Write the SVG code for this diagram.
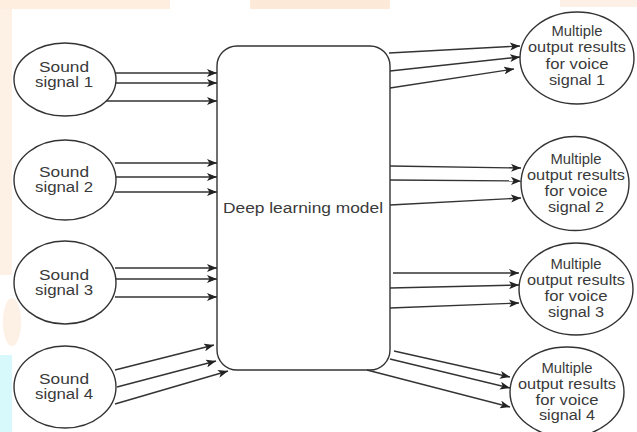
<svg xmlns="http://www.w3.org/2000/svg" width="637" height="432" viewBox="0 0 637 432">
<defs>
<marker id="ah" viewBox="0 0 10 8" refX="10" refY="4" markerWidth="10" markerHeight="8" markerUnits="userSpaceOnUse" orient="auto">
<path d="M0,0 L10,4 L0,8 L2.5,4 Z" fill="#222"/>
</marker>
<style>
.n{fill:#fff;stroke:#333;stroke-width:1.4}
.t{font-family:"Liberation Sans",Arial,sans-serif;font-size:14px;fill:#3a3a3a;text-anchor:middle}
.c{stroke:#333;stroke-width:1.4;fill:none;marker-end:url(#ah)}
</style>
</defs>
<g id="background">
<rect x="0" y="0" width="637" height="432" fill="#fff"/>
<rect x="0" y="0" width="12" height="275" fill="#fdf0e4"/>
<rect x="0" y="0" width="170" height="9" fill="#fdeee0"/>
<rect x="250" y="0" width="140" height="9" fill="#fde9d8"/>
<rect x="560" y="0" width="77" height="7" fill="#fdf0e6"/>
<ellipse cx="12" cy="322" rx="9" ry="24" fill="#fdf0e4"/>
<rect x="0" y="355" width="12" height="77" fill="#d8f9fc"/>
</g>
<g id="model">
<rect class="n" x="217" y="46" width="173" height="324" rx="20"/>
<text class="t" x="303" y="213" textLength="160" lengthAdjust="spacingAndGlyphs">Deep learning model</text>
</g>
<g id="sound1">
<ellipse class="n" cx="65" cy="79.5" rx="51" ry="36.5"/>
<text class="t" x="64" y="72" textLength="50" lengthAdjust="spacingAndGlyphs">Sound</text>
<text class="t" x="64" y="87" textLength="58" lengthAdjust="spacingAndGlyphs">signal 1</text>
</g>
<g id="sound2">
<ellipse class="n" cx="65" cy="180" rx="51" ry="40"/>
<text class="t" x="64" y="177" textLength="50" lengthAdjust="spacingAndGlyphs">Sound</text>
<text class="t" x="64" y="192" textLength="58" lengthAdjust="spacingAndGlyphs">signal 2</text>
</g>
<g id="sound3">
<ellipse class="n" cx="65" cy="282.5" rx="51" ry="41.5"/>
<text class="t" x="64" y="280" textLength="50" lengthAdjust="spacingAndGlyphs">Sound</text>
<text class="t" x="64" y="295" textLength="58" lengthAdjust="spacingAndGlyphs">signal 3</text>
</g>
<g id="sound4">
<ellipse class="n" cx="65" cy="387" rx="51" ry="41"/>
<text class="t" x="64" y="384" textLength="50" lengthAdjust="spacingAndGlyphs">Sound</text>
<text class="t" x="64" y="399" textLength="58" lengthAdjust="spacingAndGlyphs">signal 4</text>
</g>
<g id="out1">
<ellipse class="n" cx="577" cy="58" rx="57" ry="46"/>
<text class="t" x="577" y="36" textLength="51" lengthAdjust="spacingAndGlyphs">Multiple</text>
<text class="t" x="577" y="52" textLength="98" lengthAdjust="spacingAndGlyphs">output results</text>
<text class="t" x="577" y="69" textLength="63" lengthAdjust="spacingAndGlyphs">for voice</text>
<text class="t" x="577" y="85" textLength="56" lengthAdjust="spacingAndGlyphs">signal 1</text>
</g>
<g id="out2">
<ellipse class="n" cx="575" cy="183.5" rx="54" ry="47"/>
<text class="t" x="576" y="164" textLength="51" lengthAdjust="spacingAndGlyphs">Multiple</text>
<text class="t" x="576" y="180" textLength="98" lengthAdjust="spacingAndGlyphs">output results</text>
<text class="t" x="576" y="196" textLength="63" lengthAdjust="spacingAndGlyphs">for voice</text>
<text class="t" x="576" y="212" textLength="56" lengthAdjust="spacingAndGlyphs">signal 2</text>
</g>
<g id="out3">
<ellipse class="n" cx="576" cy="289" rx="57" ry="46"/>
<text class="t" x="576" y="269" textLength="51" lengthAdjust="spacingAndGlyphs">Multiple</text>
<text class="t" x="576" y="285" textLength="98" lengthAdjust="spacingAndGlyphs">output results</text>
<text class="t" x="576" y="301" textLength="63" lengthAdjust="spacingAndGlyphs">for voice</text>
<text class="t" x="576" y="317" textLength="56" lengthAdjust="spacingAndGlyphs">signal 3</text>
</g>
<g id="out4">
<ellipse class="n" cx="567" cy="392" rx="57" ry="45"/>
<text class="t" x="567" y="373" textLength="51" lengthAdjust="spacingAndGlyphs">Multiple</text>
<text class="t" x="567" y="389" textLength="98" lengthAdjust="spacingAndGlyphs">output results</text>
<text class="t" x="567" y="405" textLength="63" lengthAdjust="spacingAndGlyphs">for voice</text>
<text class="t" x="567" y="420" textLength="56" lengthAdjust="spacingAndGlyphs">signal 4</text>
</g>
<g id="connectors">
<line class="c" x1="115" y1="73" x2="217" y2="73"/>
<line class="c" x1="115" y1="83" x2="217" y2="83"/>
<line class="c" x1="106" y1="101" x2="217" y2="101"/>
<line class="c" x1="115" y1="163" x2="217" y2="163"/>
<line class="c" x1="116" y1="177" x2="217" y2="177"/>
<line class="c" x1="115" y1="192" x2="217" y2="192"/>
<line class="c" x1="115" y1="268" x2="217" y2="268"/>
<line class="c" x1="116" y1="279" x2="217" y2="279"/>
<line class="c" x1="115" y1="297" x2="217" y2="297"/>
<line class="c" x1="115" y1="370" x2="214" y2="345"/>
<line class="c" x1="117" y1="387" x2="216" y2="361"/>
<line class="c" x1="115" y1="404" x2="228" y2="371"/>
<line class="c" x1="389" y1="53" x2="520" y2="46"/>
<line class="c" x1="390" y1="71" x2="520" y2="57"/>
<line class="c" x1="390" y1="88" x2="514" y2="69"/>
<line class="c" x1="390" y1="166" x2="521" y2="168"/>
<line class="c" x1="390" y1="180" x2="521" y2="181"/>
<line class="c" x1="390" y1="205" x2="521" y2="198"/>
<line class="c" x1="393" y1="273" x2="519" y2="273"/>
<line class="c" x1="390" y1="288" x2="519" y2="285"/>
<line class="c" x1="390" y1="308" x2="519" y2="303"/>
<line class="c" x1="394" y1="351" x2="510" y2="377"/>
<line class="c" x1="390" y1="359" x2="510" y2="388"/>
<line class="c" x1="367" y1="370" x2="510" y2="407"/>
</g>
</svg>
